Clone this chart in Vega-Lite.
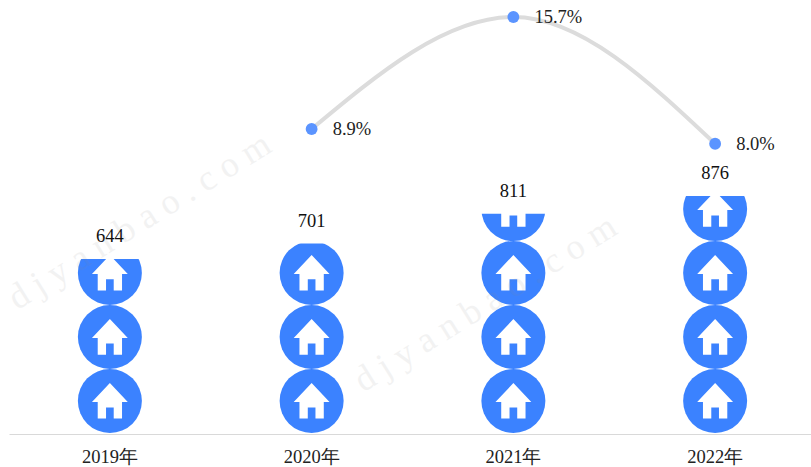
{"$schema":"https://vega.github.io/schema/vega-lite/v6.json","width":811,"height":434,"autosize":{"type":"none"},"padding":{"left":0,"top":0,"right":0,"bottom":33},"background":"white","view":{"stroke":null},"config":{"font":"Liberation Serif"},"datasets":{"sales":[{"year":"2019年","sales":644},{"year":"2020年","sales":701},{"year":"2021年","sales":811},{"year":"2022年","sales":876}],"rates":[{"year":"2020年","rate":0.089},{"year":"2021年","rate":0.157},{"year":"2022年","rate":0.08}],"icons":[{"year":"2019年","level":121.5},{"year":"2019年","level":357},{"year":"2019年","level":593},{"year":"2020年","level":121.5},{"year":"2020年","level":357},{"year":"2020年","level":593},{"year":"2021年","level":121.5},{"year":"2021年","level":357},{"year":"2021年","level":593},{"year":"2021年","level":828},{"year":"2022年","level":121.5},{"year":"2022年","level":357},{"year":"2022年","level":593},{"year":"2022年","level":828}]},"resolve":{"scale":{"y":"independent"}},"encoding":{"x":{"field":"year","type":"nominal","scale":{"type":"band","range":[9,816],"paddingInner":0,"paddingOuter":0},"axis":{"title":null,"ticks":false,"labelAngle":0,"labelFontSize":18.5,"labelColor":"#222","labelFont":"Liberation Serif","labelPadding":13,"domainColor":"#d9d9d9","domainWidth":1,"grid":false}}},"layer":[{"data":{"name":"icons"},"mark":{"type":"point","shape":"circle","filled":true,"size":4096,"color":"#3b82ff","opacity":1},"encoding":{"y":{"field":"level","type":"quantitative","scale":{"domain":[0,1598]},"axis":null}}},{"data":{"name":"icons"},"mark":{"type":"point","shape":"M0,-0.56 L0.56,0.03 L0.38,0.03 L0.38,0.55 L0.12,0.55 L0.12,0.2 L-0.12,0.2 L-0.12,0.55 L-0.38,0.55 L-0.38,0.03 L-0.56,0.03 Z","filled":true,"size":4096,"color":"white","opacity":1},"encoding":{"y":{"field":"level","type":"quantitative","scale":{"domain":[0,1598]},"axis":null}}},{"data":{"name":"sales"},"mark":{"type":"bar","size":72,"color":"white"},"encoding":{"y":{"field":"sales","type":"quantitative","scale":{"domain":[0,1598]},"axis":null},"y2":{"datum":1598}}},{"data":{"name":"sales"},"mark":{"type":"text","fontSize":18.5,"font":"Liberation Serif","color":"#111","baseline":"middle","align":"center","dy":-23},"encoding":{"y":{"field":"sales","type":"quantitative","scale":{"domain":[0,1598]},"axis":null},"text":{"field":"sales","type":"quantitative"}}},{"data":{"name":"rates"},"mark":{"type":"line","color":"#dcdcdc","strokeWidth":4,"interpolate":"monotone"},"encoding":{"y":{"field":"rate","type":"quantitative","scale":{"domain":[-0.0962,0.1673]},"axis":null}}},{"data":{"name":"rates"},"mark":{"type":"point","shape":"circle","filled":true,"size":140,"color":"#5b94ff","opacity":1},"encoding":{"y":{"field":"rate","type":"quantitative","scale":{"domain":[-0.0962,0.1673]},"axis":null}}},{"data":{"name":"rates"},"mark":{"type":"text","fontSize":18.5,"font":"Liberation Serif","color":"#222","align":"left","baseline":"middle","dx":21},"encoding":{"y":{"field":"rate","type":"quantitative","scale":{"domain":[-0.0962,0.1673]},"axis":null},"text":{"field":"rate","type":"quantitative","format":".1%"}}},{"data":{"values":[{"year":"2019年","level":715,"mark":"d j y a n b a o . c o m"}]},"mark":{"type":"text","fontSize":36,"font":"Liberation Serif","color":"#888","opacity":0.1,"angle":328,"align":"center","baseline":"middle","dx":35},"encoding":{"y":{"field":"level","type":"quantitative","scale":{"domain":[0,1598]},"axis":null},"text":{"field":"mark"}}},{"data":{"values":[{"year":"2021年","level":545,"mark":"d j y a n b a o . c o m"}]},"mark":{"type":"text","fontSize":36,"font":"Liberation Serif","color":"#888","opacity":0.1,"angle":328,"align":"center","baseline":"middle","dx":-33},"encoding":{"y":{"field":"level","type":"quantitative","scale":{"domain":[0,1598]},"axis":null},"text":{"field":"mark"}}}]}
